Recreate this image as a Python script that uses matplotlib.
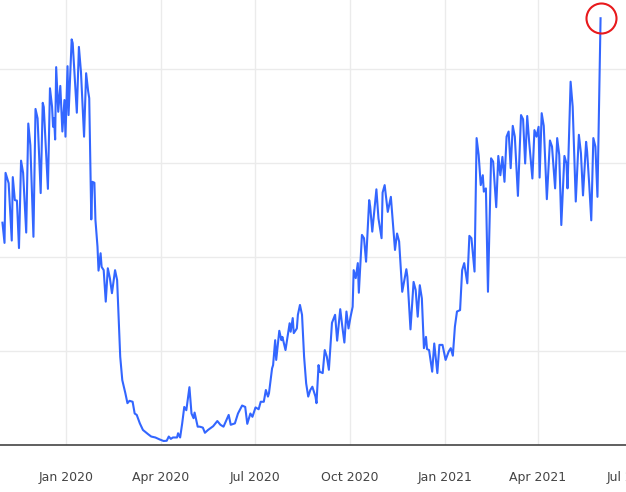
import matplotlib
matplotlib.use("Agg")
import matplotlib.pyplot as plt
import pandas as pd

# x values: days after 2020-01-01, y values: index level
days = [-62, -60, -59, -56, -53, -52, -50, -48, -46, -44, -42, -39, -37, -35, -32, -30, -28, -25, -23, -22,
        -18, -16, -14, -13, -12, -11, -10, -8, -6, -4, -2, -1, 1, 2, 5, 6, 10, 12, 14, 17,
        19, 21, 22, 24, 25, 27, 28, 30, 31, 33, 34, 36, 38, 40, 42, 44, 47, 49, 52, 54,
        57, 59, 61, 64, 66, 68, 71, 74, 79, 82, 86, 90, 94, 97, 99, 101, 103, 107, 108, 110,
        112, 114, 116, 119, 121, 123, 124, 127, 129, 132, 134, 137, 142, 146, 149, 152, 157, 159, 163, 166,
        170, 173, 175, 178, 180, 183, 186, 188, 191, 193, 195, 196, 199, 200, 202, 203, 206, 208, 209, 212,
        214, 216, 217, 219, 220, 223, 224, 226, 228, 230, 232, 234, 236, 238, 241, 242, 244, 245, 248, 250,
        252, 254, 257, 260, 262, 265, 267, 269, 271, 273, 275, 277, 278, 280, 282, 283, 286, 288, 290, 293,
        294, 296, 300, 302, 305, 306, 308, 311, 314, 318, 320, 322, 325, 329, 330, 333, 336, 338, 340, 342,
        344, 346, 348, 349, 351, 354, 356, 359, 361, 364, 367, 370, 372, 374, 376, 378, 381, 383, 385, 388,
        390, 392, 395, 397, 399, 401, 403, 404, 406, 408, 411, 413, 416, 418, 420, 422, 424, 426, 428, 430,
        432, 434, 437, 440, 442, 444, 446, 448, 451, 453, 455, 457, 458, 460, 462, 465, 468, 470, 473, 475,
        477, 479, 482, 484, 485, 488, 490, 493, 496, 498, 500, 503, 504, 506, 508, 510, 512, 514, 517]
values = [47.3, 43.0, 57.9, 55.7, 43.5, 57.0, 52.1, 52.0, 41.9, 60.5, 57.9, 45.2, 68.4, 63.8, 44.3, 71.5, 69.5, 53.6, 72.8, 71.9,
          54.5, 75.9, 72.0, 67.7, 69.5, 65.0, 80.4, 70.9, 76.4, 66.7, 73.4, 65.6, 80.6, 70.2, 86.3, 85.5, 70.7, 84.7, 79.4, 65.6,
          79.1, 75.2, 73.8, 48.0, 56.0, 55.8, 47.9, 42.2, 37.1, 40.8, 37.9, 37.2, 30.5, 37.6, 35.5, 32.3, 37.2, 35.1, 18.8, 13.8,
          11.0, 8.9, 9.4, 9.2, 6.7, 6.4, 4.6, 3.2, 2.3, 1.8, 1.6, 1.2, 0.85, 0.9, 1.8, 1.3, 1.6, 1.6, 2.5, 1.6,
          4.6, 8.1, 7.4, 12.3, 6.7, 5.7, 6.9, 3.9, 3.9, 3.7, 2.6, 3.2, 4.0, 5.1, 4.3, 3.9, 6.4, 4.3, 4.6, 6.7,
          8.4, 8.1, 4.5, 6.7, 6.0, 8.0, 7.6, 9.2, 9.2, 11.7, 10.3, 11.0, 16.3, 17.0, 22.3, 18.1, 24.3, 22.3, 23.0, 20.2,
          23.0, 25.9, 24.1, 27.0, 23.8, 24.8, 27.7, 29.8, 27.7, 18.8, 13.1, 10.3, 11.7, 12.4, 10.3, 8.9, 17.0, 15.6, 15.3, 20.2,
          18.8, 16.0, 26.0, 27.7, 22.2, 28.9, 25.2, 21.8, 28.4, 24.8, 27.3, 29.4, 37.2, 35.5, 38.7, 32.4, 44.7, 44.0, 39.0, 52.1,
          50.7, 45.4, 54.4, 48.2, 44.0, 53.7, 55.3, 49.6, 52.8, 41.5, 45.0, 43.3, 32.6, 37.4, 35.8, 24.6, 34.7, 33.0, 27.3, 34.0,
          31.2, 20.6, 23.0, 20.4, 20.2, 15.6, 21.6, 15.3, 21.3, 21.3, 18.1, 19.9, 20.6, 19.0, 25.2, 28.4, 28.7, 37.2, 38.7, 34.4,
          44.5, 44.0, 36.9, 65.3, 61.7, 55.3, 57.4, 53.9, 54.6, 32.6, 61.0, 60.3, 50.6, 61.5, 57.4, 61.3, 56.0, 65.6, 66.7, 58.9,
          67.9, 65.6, 53.0, 70.2, 69.3, 59.9, 70.0, 64.2, 56.7, 67.0, 65.6, 67.7, 56.9, 70.6, 67.9, 52.3, 64.8, 63.5, 54.6, 65.3,
          61.7, 46.8, 61.5, 59.9, 54.6, 77.3, 72.0, 51.8, 66.0, 62.1, 53.1, 64.5, 62.4, 55.5, 47.8, 65.3, 63.5, 52.8, 90.8]

base = pd.Timestamp("2020-01-01")
dates = base + pd.to_timedelta(days, unit="D")

tick_dates = pd.to_datetime(["2020-01-01", "2020-04-01", "2020-07-01", "2020-10-01",
                             "2021-01-01", "2021-04-01", "2021-07-01"])
tick_labels = ["Jan 2020", "Apr 2020", "Jul 2020", "Oct 2020", "Jan 2021", "Apr 2021", "Jul 2021"]
y_grid = [20, 40, 60, 80]

W, H = 626, 492
fig = plt.figure(figsize=(W / 100, H / 100), dpi=100)
right_px = 640
ax = fig.add_axes([0, 47 / H, right_px / W, 445 / H])

ax.plot(dates, values, color="#3366ff", lw=1.5, solid_joinstyle="round", zorder=3)
ax.plot([dates[-1]], [values[-1]], marker="o", ms=21.6, mfc="none", mec="#e8191c", mew=1.5, zorder=4)

ax.set_xticks(tick_dates)
ax.set_xticklabels(tick_labels)
ax.set_yticks(y_grid)
ax.set_yticklabels([])

px_per_day = 1.033
x0 = base - pd.Timedelta(days=66.5 / px_per_day)
x1 = base + pd.Timedelta(days=(right_px - 66.5) / px_per_day)
ax.set_xlim(x0, x1)
ax.set_ylim(0, 445 * 20 / 94)

ax.tick_params(axis="both", length=0)
ax.tick_params(axis="x", pad=19, labelsize=9, labelcolor="#444444")
for lab in ax.get_xticklabels():
    lab.set_fontfamily("DejaVu Sans")

ax.grid(True, color="#ebebeb", lw=1.0, zorder=0)
for s in ["top", "right", "left"]:
    ax.spines[s].set_visible(False)
ax.spines["bottom"].set_color("#444444")
ax.spines["bottom"].set_linewidth(1.2)
ax.set_facecolor("white")

fig.savefig("out.png", dpi=100)
